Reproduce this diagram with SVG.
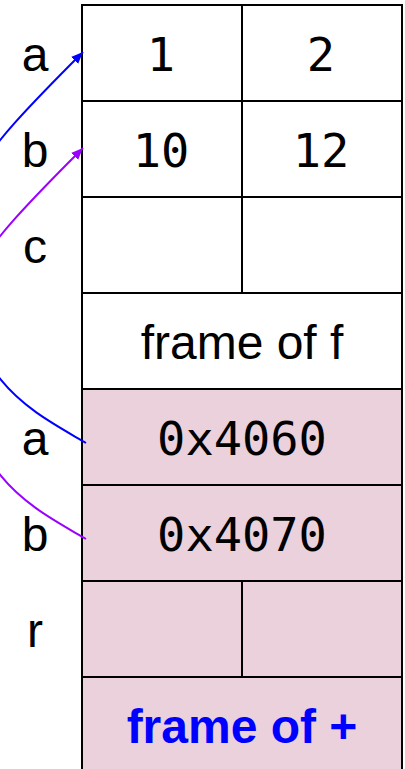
<svg xmlns="http://www.w3.org/2000/svg" width="405" height="769" viewBox="0 0 405 769">
<style>
.cell{fill:#ffffff;stroke:#000000;stroke-width:2}
.pink{fill:#ead1dc;stroke:#000000;stroke-width:2}
.lbl{font-family:"Liberation Sans",Arial,sans-serif;font-size:48px;fill:#000000;text-anchor:middle}
.num{font-family:"DejaVu Sans Mono","Liberation Mono",monospace;font-size:47px;fill:#000000;text-anchor:middle}
.ttl{font-family:"Liberation Sans",Arial,sans-serif;font-size:48px;fill:#000000;text-anchor:middle}
.ttlb{font-family:"Liberation Sans",Arial,sans-serif;font-size:48px;font-weight:bold;fill:#0000ff;text-anchor:middle}
.con{fill:none;stroke-width:2}
</style>
<defs>
<marker id="ahBlue" markerUnits="userSpaceOnUse" markerWidth="14" markerHeight="12" refX="12" refY="5" orient="auto">
<path d="M0,0 L12,5 L0,10 Z" fill="#0000ff"/>
</marker>
<marker id="ahPurple" markerUnits="userSpaceOnUse" markerWidth="14" markerHeight="12" refX="12" refY="5" orient="auto">
<path d="M0,0 L12,5 L0,10 Z" fill="#9900ff"/>
</marker>
</defs>

<g id="labels">
<text class="lbl" x="35" y="71">a</text>
<text class="lbl" x="35" y="167">b</text>
<text class="lbl" x="35" y="263">c</text>
<text class="lbl" x="35" y="455">a</text>
<text class="lbl" x="35" y="551">b</text>
<text class="lbl" x="35" y="647">r</text>
</g>

<g id="row-a">
<rect class="cell" x="82" y="5" width="160" height="96"/>
<rect class="cell" x="242" y="5" width="160" height="96"/>
<text class="num" x="161" y="71">1</text>
<text class="num" x="321" y="71">2</text>
</g>
<g id="row-b">
<rect class="cell" x="82" y="101" width="160" height="96"/>
<rect class="cell" x="242" y="101" width="160" height="96"/>
<text class="num" x="161" y="167">10</text>
<text class="num" x="321" y="167">12</text>
</g>
<g id="row-c">
<rect class="cell" x="82" y="197" width="160" height="96"/>
<rect class="cell" x="242" y="197" width="160" height="96"/>
</g>
<g id="frame-f">
<rect class="cell" x="82" y="293" width="320" height="96"/>
<text class="ttl" x="242" y="359">frame of f</text>
</g>
<g id="row-pa">
<rect class="pink" x="82" y="389" width="320" height="96"/>
<text class="num" x="242" y="455">0x4060</text>
</g>
<g id="row-pb">
<rect class="pink" x="82" y="485" width="320" height="96"/>
<text class="num" x="242" y="551">0x4070</text>
</g>
<g id="row-r">
<rect class="pink" x="82" y="581" width="160" height="96"/>
<rect class="pink" x="242" y="581" width="160" height="96"/>
</g>
<g id="frame-plus">
<rect class="pink" x="82" y="677" width="320" height="110"/>
<text class="ttlb" x="242" y="743">frame of +</text>
</g>

<g id="connectors">
<path class="con" stroke="#0000ff" marker-end="url(#ahBlue)" d="M86,443 C30,410 -35,380 -35,260 C-35,180 -38,173 83,52"/>
<path class="con" stroke="#9900ff" marker-end="url(#ahPurple)" d="M86,539 C30,506 -35,476 -35,356 C-35,276 -38,269 83,148"/>
</g>
</svg>
